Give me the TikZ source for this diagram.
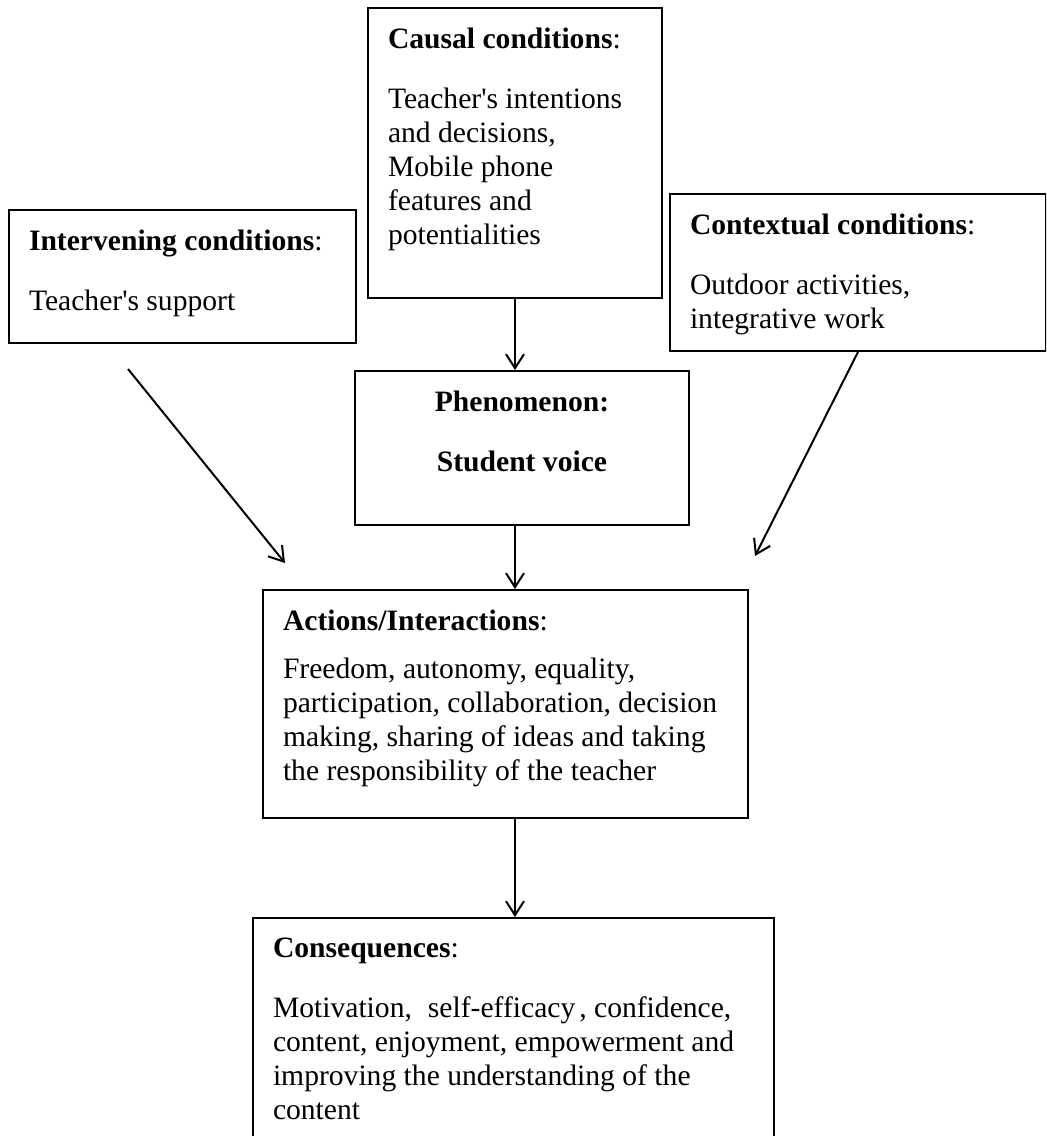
\documentclass[tikz,border=0pt]{standalone}
\usepackage{fontspec}
\setmainfont{Liberation Serif}
\usetikzlibrary{arrows.meta}
\newcommand{\kastentext}[3]{\parbox[t][#2][t]{#1}{\raggedright #3}}
\tikzset{
  kasten/.style={draw,line width=1pt,anchor=north west,inner xsep=10pt,inner ysep=10pt,
    font=\fontsize{14.8}{17}\selectfont},
  pfeil/.style={-{Straight Barb[length=7pt,width=9pt]},line width=1pt},
}
\begin{document}
\begin{tikzpicture}[x=0.5pt,y=-0.5pt]
  \useasboundingbox (0,0) rectangle (1046,1136);
  \clip (0,0) rectangle (1046,1136);
  % boxes
  \node[kasten] (causal) at (367,7) {\kastentext{127pt}{125pt}{\textbf{Causal conditions}:\\[13pt]
    Teacher\textquotesingle s intentions\\ and decisions,\\ Mobile phone\\ features and\\ potentialities}};
  \node[kasten] (interv) at (8,209) {\kastentext{153.5pt}{46.5pt}{\textbf{Intervening conditions}:\\[13pt]
    Teacher\textquotesingle s support}};
  \node[kasten] (context) at (669,193) {\kastentext{168pt}{58.5pt}{\textbf{Contextual conditions}:\\[13pt]
    Outdoor activities,\\ integrative work}};
  \node[kasten] (phen) at (354,370) {\kastentext{147pt}{57pt}{\centering\textbf{Phenomenon:}\\[13pt]
    \textbf{Student voice}}};
  \node[kasten] (act) at (262,589) {\kastentext{222.5pt}{94pt}{\textbf{Actions/Interactions}:\\[7pt]
    Freedom, autonomy, equality,\\ participation, collaboration, decision\\
    making, sharing of ideas and taking\\ the responsibility of the teacher}};
  \node[kasten] (cons) at (252,917) {\kastentext{240.5pt}{96.5pt}{\textbf{Consequences}:\\[13pt]
    Motivation,\hspace{8pt}self-efficacy\hspace{2pt}, confidence,\\ content, enjoyment, empowerment and\\
    improving the understanding of the\\ content}};
  % arrows
  \coordinate (ivA) at (128,369);
  \coordinate (ivB) at (285,563);
  \coordinate (ctB) at (755,556);
  \draw[pfeil] (ivA) -- (ivB);
  \draw[pfeil] (context.south) -- (ctB);
  \draw[pfeil] (causal.south) -- (causal.south |- phen.north);
  \draw[pfeil] (causal.south |- phen.south) -- (causal.south |- act.north);
  \draw[pfeil] (causal.south |- act.south) -- (causal.south |- cons.north);
\end{tikzpicture}
\end{document}
